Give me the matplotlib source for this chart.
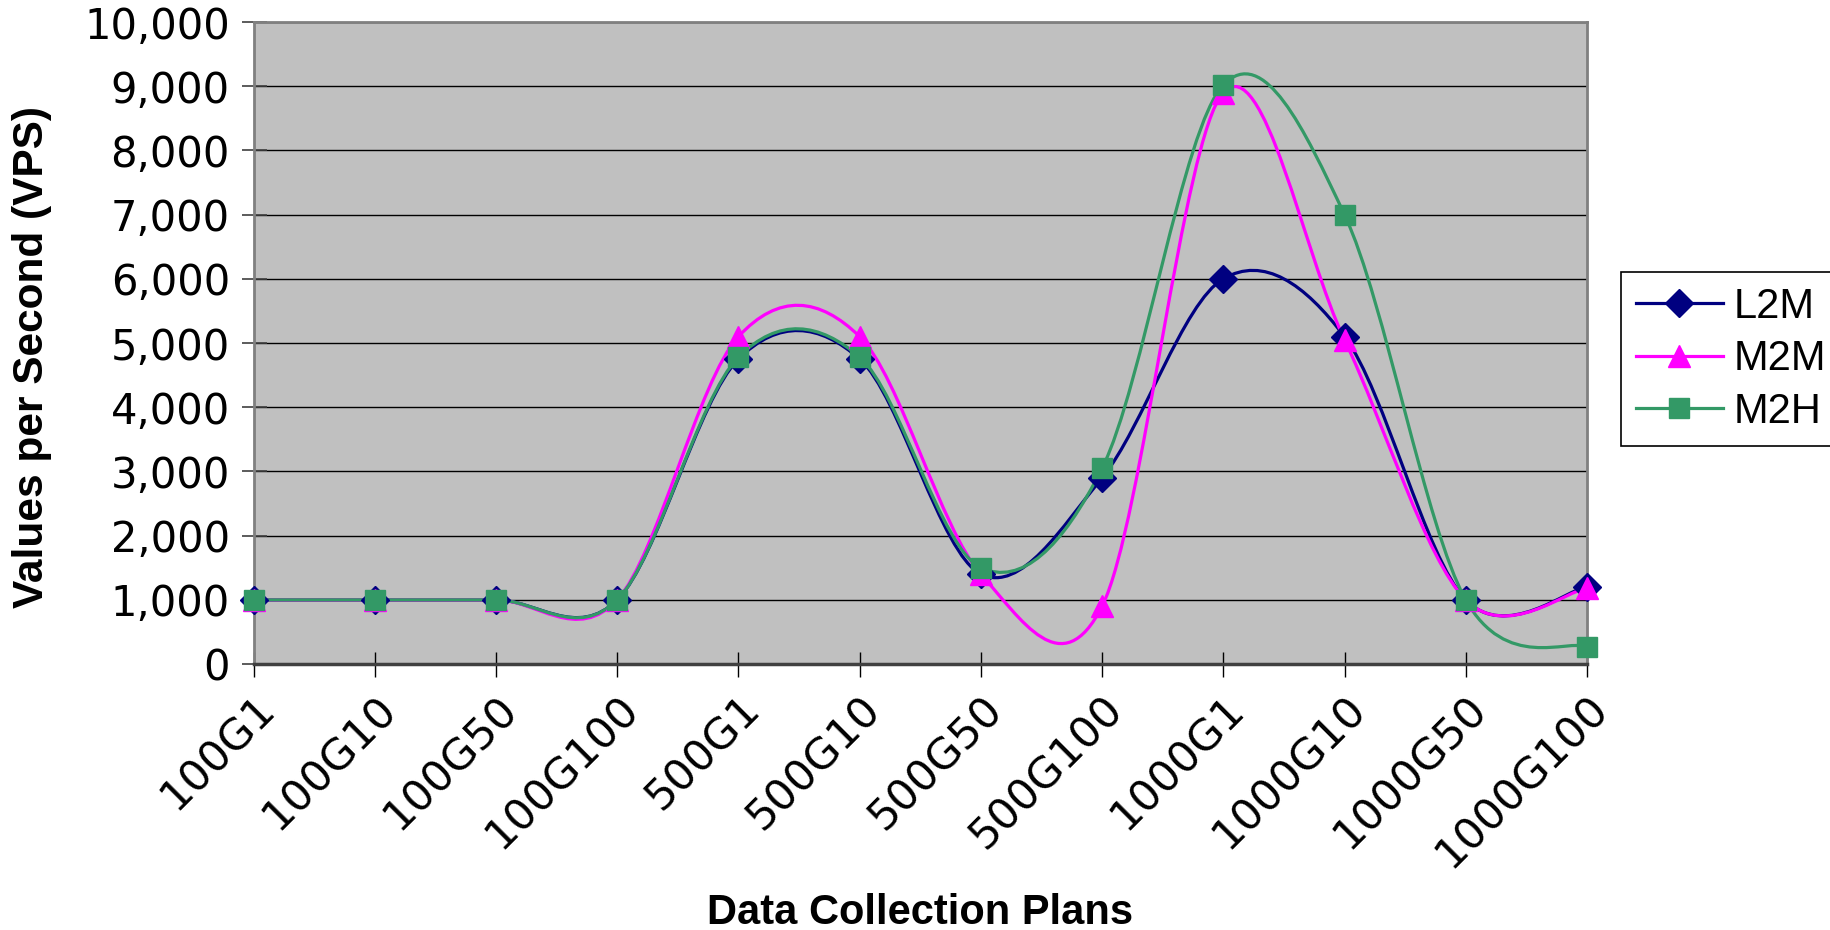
import matplotlib

matplotlib.use("Agg")

import matplotlib.pyplot as plt  # noqa: E402
from matplotlib.lines import Line2D  # noqa: E402
from matplotlib.patches import PathPatch  # noqa: E402
from matplotlib.path import Path  # noqa: E402
from matplotlib.ticker import FuncFormatter  # noqa: E402

plans = ["100G1", "100G10", "100G50", "100G100", "500G1", "500G10",
         "500G50", "500G100", "1000G1", "1000G10", "1000G50", "1000G100"]
l2m = [1000, 1000, 1000, 1000, 4750, 4750, 1400, 2900, 6000, 5100, 1000, 1200]
m2m = [1000, 1000, 1000, 1000, 5100, 5100, 1400, 900, 8900, 5050, 1000, 1180]
m2h = [1000, 1000, 1000, 1000, 4780, 4780, 1500, 3050, 9020, 7000, 1000, 270]

series = [
    ("L2M", l2m, "#000080", "D", 14),
    ("M2M", m2m, "#FF00FF", "^", 16),
    ("M2H", m2h, "#339966", "s", 14),
]

plt.rcParams["font.family"] = ["Liberation Sans", "DejaVu Sans"]


def _smooth_path(xs, ys):
    # Excel-like smoothed line: cubic bezier segments through every point
    verts = [(xs[0], ys[0])]
    codes = [Path.MOVETO]
    n = len(xs)
    for i in range(n - 1):
        x0, y0 = (xs[i - 1], ys[i - 1]) if i > 0 else (xs[i], ys[i])
        x1, y1 = xs[i], ys[i]
        x2, y2 = xs[i + 1], ys[i + 1]
        x3, y3 = (xs[i + 2], ys[i + 2]) if i + 2 < n else (x2, y2)
        c1 = (x1 + (x2 - x0) / 6, y1 + (y2 - y0) / 6)
        c2 = (x2 - (x3 - x1) / 6, y2 - (y3 - y1) / 6)
        verts += [c1, c2, (x2, y2)]
        codes += [Path.CURVE4] * 3
    return Path(verts, codes)


fig = plt.figure(figsize=(18.31, 9.30), dpi=100)
ax = fig.add_axes([0.1385, 0.286, 0.7282, 0.6903])
ax.set_facecolor("#C0C0C0")

xs = list(range(len(plans)))
handles = []
for name, values, color, marker, msize in series:
    patch = PathPatch(_smooth_path(xs, values), facecolor="none",
                      edgecolor=color, linewidth=2.3, zorder=3)
    ax.add_patch(patch)
    ax.plot(xs, values, linestyle="none", marker=marker, markersize=msize,
            color=color, zorder=4, clip_on=False)
    handles.append(Line2D([], [], color=color, linewidth=2.3, marker=marker,
                          markersize=msize, label=name))

ax.set_xlim(0, len(plans) - 1)
ax.set_ylim(0, 10000)
ax.set_yticks(range(0, 10001, 1000))
ax.yaxis.set_major_formatter(FuncFormatter(lambda v, _: f"{v:,.0f}"))
ax.set_xticks(xs)
ax.set_xticklabels(plans, rotation=45, ha="right", rotation_mode="anchor")

ax.grid(axis="y", color="black", linewidth=1.0)
ax.set_axisbelow(True)
for side in ["left", "top", "right"]:
    ax.spines[side].set_color("#808080")
    ax.spines[side].set_linewidth(2)
ax.spines["bottom"].set_color("#404040")
ax.spines["bottom"].set_linewidth(2.5)

ax.tick_params(axis="y", direction="inout", length=18, width=1.2,
               color="#404040", labelsize=30, pad=8)
ax.tick_params(axis="x", direction="inout", length=18, width=1.0,
               color="black", labelsize=31, pad=8)
for lbl in ax.get_yticklabels() + ax.get_xticklabels():
    lbl.set_family(["DejaVu Sans"])

ax.set_ylabel("Values per Second (VPS)", fontsize=30.5, fontweight="bold")
ax.yaxis.label.set_va("center")
ax.yaxis.set_label_coords(-0.1665, 0.478)
ax.set_xlabel("Data Collection Plans", fontsize=30, fontweight="bold")
ax.xaxis.label.set_va("center")
ax.xaxis.set_label_coords(0.5, -0.388)

leg = fig.legend(handles=handles, loc="upper left",
                 bbox_to_anchor=(0.8853, 0.7075), fontsize=30,
                 frameon=True, fancybox=False, framealpha=1,
                 edgecolor="black", borderpad=0.35, labelspacing=0.3,
                 handlelength=2.1, handletextpad=0.25, borderaxespad=0)
leg.get_frame().set_linewidth(1.2)

fig.savefig("out.png", dpi=100)
plt.close(fig)
